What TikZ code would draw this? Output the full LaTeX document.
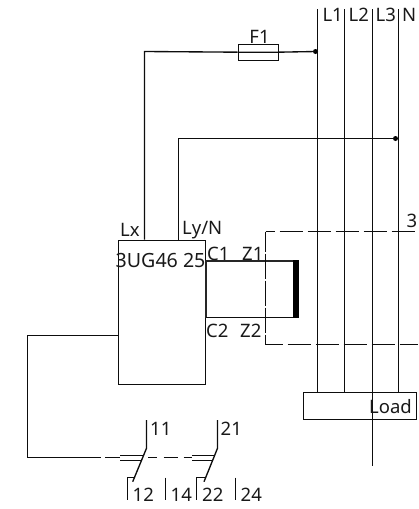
\documentclass[tikz,border=0pt]{standalone}
\usepackage{fontspec}
\setmainfont{Noto Sans}
\tikzset{
  wire/.style={line width=1.35pt,draw=black!95},
  boxn/.style={draw=black!95,line width=1.35pt,minimum width=#1,inner sep=0pt,anchor=north west},
  lab/.style={anchor=west,inner sep=0pt,text=black!90,font=\fontsize{18.5}{18.5}\selectfont},
  dsh/.style={line width=1.35pt,draw=black!95,dash pattern=on 23pt off 5pt},
  jdot/.style={circle,fill=black,inner sep=0pt,minimum size=5pt}
}
\begin{document}
\begin{tikzpicture}[x=1pt,y=-1pt]
\useasboundingbox (0,0) rectangle (418,509);
\begin{scope}[xshift=-2pt,yshift=1pt]
% coordinates
\coordinate (L1t) at (319.5,10); \coordinate (L1b) at (319.5,392.5);
\coordinate (L2t) at (346.5,10); \coordinate (L2b) at (346.5,392.5);
\coordinate (L3t) at (374.5,10); \coordinate (L3b) at (374.5,467);
\coordinate (Nt) at (400.5,10); \coordinate (Nb) at (400.5,392.5);
\node[jdot] (d1) at (317.5,52.5) {};
\node[jdot] (d2) at (397.5,139.5) {};
% boxes
\node[boxn=40pt,minimum height=16pt] (fuse) at (239.5,44.5) {};
\node[boxn=87pt,minimum height=144pt] (relay) at (119.5,240.5) {};
\node[boxn=113pt,minimum height=27pt] (load) at (304.5,392.5) {};
% bus
\draw[wire] (L1t)--(L1b);
\draw[wire] (L2t)--(L2b);
\draw[wire] (L3t)--(L3b);
\draw[wire] (Nt)--(Nb);
% feeds
\coordinate (a1) at (146.5,240.5); \coordinate (a2) at (180.5,240.5);
\draw[wire] (a1)--(146.5,52.5)--(fuse.west);
\draw[wire] (fuse.west)--(fuse.east)--(d1.center);
\draw[wire] (a2)--(180.5,139.5)--(d2.center);
% coil
\coordinate (c1) at (207.5,261.5); \coordinate (c2) at (295,261.5);
\coordinate (c3) at (295,318.5); \coordinate (c4) at (207.5,318.5);
\draw[line width=2pt,draw=black!85] (c4)--(c1)--(c2);
\draw[wire] (c4)--(c3);
\fill[black] (295,261) rectangle (300.5,319);
% dashed transformer outline
\coordinate (t1) at (420,232.5); \coordinate (t2) at (267.5,232.5);
\coordinate (t3) at (267.5,345.5); \coordinate (t4) at (420,345.5);
\draw[dsh,dash phase=14pt] (t2)--(t1);
\draw[dsh,dash phase=6pt] (t3)--(t4);
\draw[dsh,dash pattern=on 25pt off 2pt,dash phase=5pt] (t2)--(t3);
% control loop
\coordinate (s1) at (119.5,336.5); \coordinate (s2) at (29.5,336.5);
\coordinate (s3) at (29.5,458.5); \coordinate (s4) at (102.7,458.5);
\draw[wire] (s1)--(s2)--(s3)--(s4);
\coordinate (m1) at (107,458.5); \coordinate (m2) at (122,458.5);
\draw[wire] (m1)--(m2);
\coordinate (m3) at (150,458.5); \coordinate (m4) at (159,458.5);
\draw[wire] (m3)--(m4);
\coordinate (m5) at (165.5,458.5); \coordinate (m6) at (180,458.5);
\draw[wire] (m5)--(m6);
\coordinate (m7) at (185.5,458.5); \coordinate (m8) at (194,458.5);
\draw[wire] (m7)--(m8);
% contact 1
\draw[wire] (122,456.5)--(145,456.5);
\draw[wire] (122,461.5)--(143,461.5);
\draw[wire] (148.5,421)--(148.5,449.3)--(134.7,482.7);
\draw[wire] (137,478.5)--(129.5,478.5)--(129.5,501);
\draw[wire] (167.5,478.5)--(167.5,501);
% contact 2
\draw[wire] (194,456.5)--(216,456.5);
\draw[wire] (194,461.5)--(214,461.5);
\draw[wire] (219.5,421)--(219.5,449.3)--(206,482.7);
\draw[wire] (207,478.5)--(198.5,478.5)--(198.5,501);
\draw[wire] (237.5,478.5)--(237.5,501);
\end{scope}
% labels
\node[lab] (tL1) at (322.3,15) {L1};
\node[lab] (tL2) at (348.5,15) {L2};
\node[lab] (tL3) at (375.5,15) {L3};
\node[lab] (tN) at (402,15) {N};
\node[lab,anchor=center] (tF) at (259.5,36.5) {F1};
\node[lab] (tLx) at (120,230) {Lx};
\node[lab] (tLy) at (182,230) {Ly/N};
\node[lab,font=\fontsize{19.6}{19.6}\selectfont] (tU) at (115.5,260) {3UG46 25};
\node[lab] (tC1) at (207,254) {C1};
\node[lab] (tZ1) at (242,253.5) {Z1};
\node[lab] (tC2) at (206,331) {C2};
\node[lab] (tZ2) at (240,331) {Z2};
\node[lab] (t3n) at (406.5,221) {3};
\node[lab] (tLoad) at (369,406.5) {Load};
\node[lab] (t11) at (150,429) {11};
\node[lab] (t21) at (220.5,429) {21};
\node[lab] (t12) at (132.5,495) {12};
\node[lab] (t14) at (170.5,495) {14};
\node[lab] (t22) at (202,495) {22};
\node[lab] (t24) at (240.5,495) {24};
\end{tikzpicture}
\end{document}
